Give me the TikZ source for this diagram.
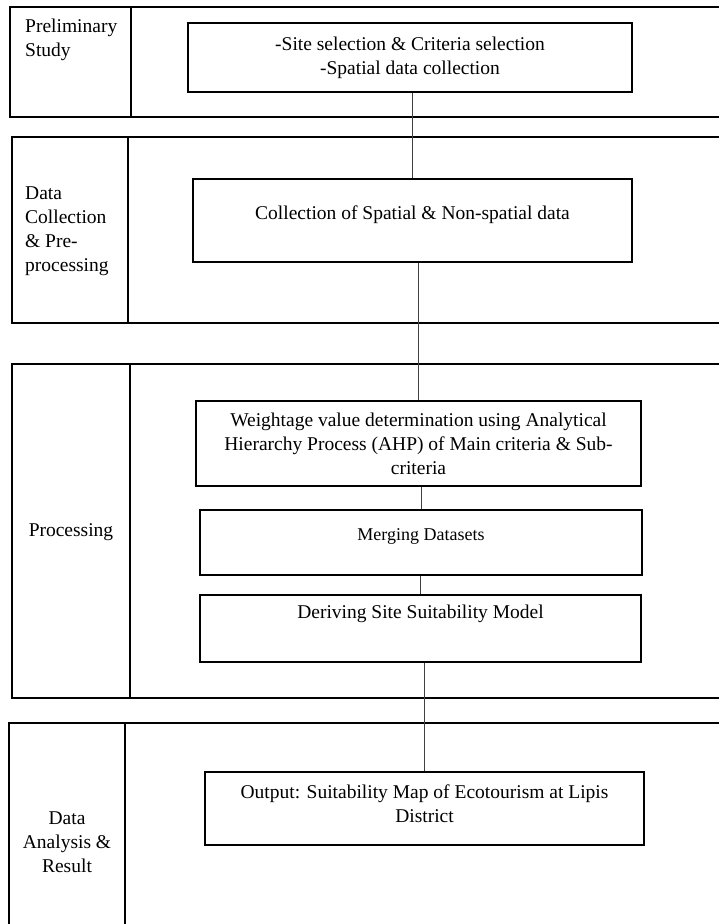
\documentclass[tikz,border=0pt]{standalone}
\usepackage{fontspec}
\setmainfont{Liberation Serif}
\begin{document}
\begin{tikzpicture}[x=1pt,y=-1pt,
    panel/.style={line width=1.8pt},
    stepbox/.style={draw,line width=1.3pt,inner sep=0pt,align=center,
      font=\fontsize{19.5}{24}\selectfont},
    lanetext/.style={inner sep=0pt,font=\fontsize{19.5}{24}\selectfont},
    link/.style={draw=black!75,line width=0.8pt}]
      \useasboundingbox (0,0) rectangle (719,924);
      \clip (0,0) rectangle (719,924);

      % the four stages
      \foreach \ya/\yb/\xa/\xb in {7/117/10/131,137/323/12/128,364/698/12/130,723/940/9/125} {
        \draw[panel] (\xa,\ya) rectangle (730,\yb);
        \draw[panel] (\xb,\ya) -- (\xb,\yb);
      }
      \node[lanetext,anchor=west,align=left] (prelim) at (25,40) {Preliminary\\Study};
      \node[lanetext,anchor=west,align=left] (collecting) at (25,231) {Data\\Collection\\\& Pre-\\processing};
      \node[lanetext,align=center] (processing) at (71,532) {Processing};
      \node[lanetext,align=center] (analysis) at (67,842) {Data\\Analysis \&\\Result};

      % steps
      \node[stepbox,minimum width=444pt,minimum height=69pt] (site) at (410,57.5)
        {-Site selection \& Criteria selection\\-Spatial data collection};
      \node[stepbox,minimum width=439pt,minimum height=83pt,text depth=15pt] (collect) at (412.5,220.5)
        {Collection of Spatial \& Non-spatial data};
      \node[stepbox,minimum width=445pt,minimum height=85pt] (ahp) at (418.5,443.5)
        {Weightage value determination using Analytical\\Hierarchy Process (AHP) of Main criteria \& Sub-\\criteria};
      \node[stepbox,minimum width=442pt,minimum height=65pt,text depth=15pt,
        font=\fontsize{18}{22}\selectfont] (merge) at (421,542.5) {Merging Datasets};
      \node[stepbox,minimum width=441pt,minimum height=67pt,text depth=33pt] (model) at (420.5,628.5)
        {Deriving Site Suitability Model};
      \node[stepbox,minimum width=439pt,minimum height=73pt,text depth=10pt] (output) at (424.5,808.5)
        {Output: Suitability Map of Ecotourism at Lipis\\District};

      \foreach \a/\b in {site/collect,collect/ahp,ahp/merge,merge/model,model/output} {
        \draw[link] (\b.north) -- (\b.north |- \a.south);
      }
    \end{tikzpicture}
\end{document}
